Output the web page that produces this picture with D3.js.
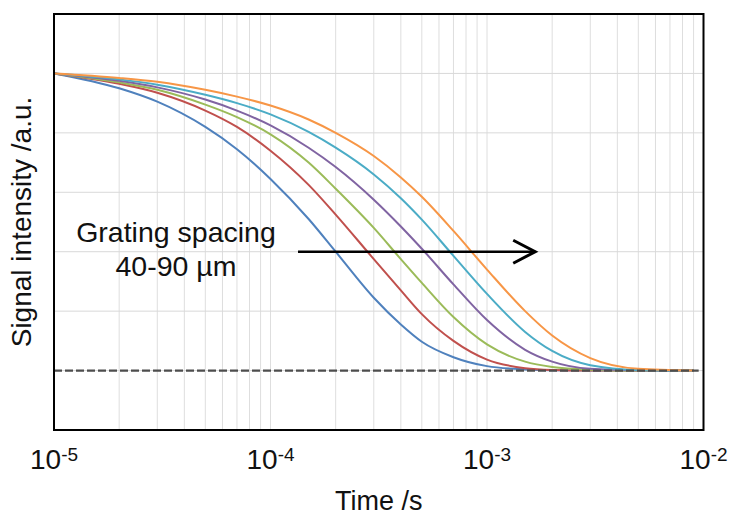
<!DOCTYPE html>
<html>
<head>
<meta charset="utf-8">
<script src="https://cdn.jsdelivr.net/npm/d3@7"></script>
<style>
  body { margin: 0; background: #fff; }
  text { font-family: "Liberation Sans", Arial, sans-serif; fill: #111; }
</style>
</head>
<body>
<svg id="chart"></svg>
<script>
// time points (s) shared by all curves
const times = [1e-5, 2e-5, 3e-5, 5e-5, 7e-5, 1e-4, 1.5e-4, 2e-4, 3e-4, 4e-4, 5e-4, 7e-4,
  1e-3, 1.5e-3, 2e-3, 3e-3, 5e-3, 9e-3];

// normalized signal, one array per grating spacing
const spacing40 = [1, 0.95, 0.905, 0.82, 0.745, 0.645, 0.51, 0.40, 0.245, 0.155, 0.097, 0.045, 0.015, 0.004, 0.001, 0, 0, 0];
const spacing50 = [1, 0.965, 0.935, 0.875, 0.82, 0.74, 0.625, 0.525, 0.375, 0.27, 0.19, 0.1, 0.037, 0.008, 0.002, 0, 0, 0];
const spacing60 = [1, 0.97, 0.945, 0.895, 0.853, 0.795, 0.70, 0.612, 0.48, 0.375, 0.295, 0.18, 0.088, 0.03, 0.012, 0.003, 0, 0];
const spacing70 = [1, 0.975, 0.953, 0.912, 0.875, 0.825, 0.75, 0.685, 0.575, 0.485, 0.41, 0.29, 0.17, 0.07, 0.03, 0.006, 0.001, 0];
const spacing80 = [1, 0.98, 0.962, 0.928, 0.9, 0.862, 0.803, 0.75, 0.66, 0.58, 0.508, 0.386, 0.258, 0.13, 0.066, 0.018, 0.002, 0];
const spacing90 = [1, 0.985, 0.972, 0.945, 0.922, 0.892, 0.845, 0.80, 0.722, 0.65, 0.585, 0.47, 0.34, 0.2, 0.118, 0.042, 0.006, 0];

const seriesNames = ["40 µm", "50 µm", "60 µm", "70 µm", "80 µm", "90 µm"];
const seriesValues = [spacing40, spacing50, spacing60, spacing70, spacing80, spacing90];

// axis ticks
const decadeTicks = [1e-5, 1e-4, 1e-3, 1e-2];
const decadeExponents = ["-5", "-4", "-3", "-2"];
const yGridValues = [-0.2, 0, 0.2, 0.4, 0.6, 0.8, 1.0, 1.2];

const width = 730;
const height = 518;
const margin = { top: 14, right: 26.5, bottom: 88, left: 54 };

const svg = d3.select("#chart").attr("width", width).attr("height", height);

const x = d3.scaleLog()
  .domain([1e-5, 1e-2])
  .range([margin.left, width - margin.right]);

const y = d3.scaleLinear()
  .domain([-0.2, 1.2])
  .range([height - margin.bottom, margin.top]);

const colors = d3.scaleOrdinal()
  .domain(seriesNames)
  .range(["#4F81BD", "#C0504D", "#9BBB59", "#8064A2", "#4BACC6", "#F79646"]);

// minor + major vertical grid lines
const gridTimes = [];
[1e-5, 1e-4, 1e-3].forEach(function (d) {
  for (let k = 1; k < 10; k++) gridTimes.push(d * k);
});

svg.append("g")
  .selectAll("line")
  .data(gridTimes)
  .enter()
  .append("line")
  .attr("x1", d => x(d))
  .attr("x2", d => x(d))
  .attr("y1", y(1.2))
  .attr("y2", y(-0.2))
  .attr("stroke", "#dedede")
  .attr("stroke-width", 1);

svg.append("g")
  .selectAll("line")
  .data(yGridValues)
  .enter()
  .append("line")
  .attr("x1", x(1e-5))
  .attr("x2", x(1e-2))
  .attr("y1", d => y(d))
  .attr("y2", d => y(d))
  .attr("stroke", "#d9d9d9")
  .attr("stroke-width", 1);

// curves
const line = d3.line()
  .x((d, i) => x(times[i]))
  .y(d => y(d))
  .curve(d3.curveMonotoneX);

svg.append("g")
  .selectAll("path")
  .data(seriesValues)
  .enter()
  .append("path")
  .attr("d", line)
  .attr("fill", "none")
  .attr("stroke", (d, i) => colors(seriesNames[i]))
  .attr("stroke-width", 2);

// zero level, dashed
const baseline = [1e-5, 9.5e-3];
svg.append("path")
  .datum(baseline)
  .attr("d", d3.line().x(d => x(d)).y(y(0)))
  .attr("fill", "none")
  .attr("stroke", "#4d4d4d")
  .attr("stroke-width", 2.2)
  .attr("stroke-dasharray", "8,3");

// plot frame
svg.append("rect")
  .attr("x", x(1e-5))
  .attr("y", y(1.2))
  .attr("width", x(1e-2) - x(1e-5))
  .attr("height", y(-0.2) - y(1.2))
  .attr("fill", "none")
  .attr("stroke", "#000")
  .attr("stroke-width", 2);

// x tick labels 10^n
const tickText = svg.append("g")
  .selectAll("text")
  .data(decadeTicks)
  .enter()
  .append("text")
  .attr("x", d => x(d))
  .attr("y", 469)
  .attr("text-anchor", "middle")
  .style("font-size", "28px");

tickText.append("tspan").text("10");
tickText.append("tspan")
  .attr("dy", -8)
  .style("font-size", "19px")
  .text((d, i) => decadeExponents[i]);

// axis titles
svg.append("text")
  .attr("x", (x(1e-5) + x(1e-2)) / 2)
  .attr("y", 510)
  .attr("text-anchor", "middle")
  .style("font-size", "27px")
  .text("Time /s");

svg.append("text")
  .attr("transform", `translate(31,${(y(1.2) + y(-0.2)) / 2}) rotate(-90)`)
  .attr("text-anchor", "middle")
  .style("font-size", "28px")
  .text("Signal intensity /a.u.");

// annotation
const arrowStart = 1.34e-4;
const arrowEnd = 1.67e-3;
const arrowLevel = 0.4;

svg.append("line")
  .attr("x1", x(arrowStart))
  .attr("x2", x(arrowEnd))
  .attr("y1", y(arrowLevel))
  .attr("y2", y(arrowLevel))
  .attr("stroke", "#000")
  .attr("stroke-width", 2.5);

svg.append("path")
  .attr("d", `M${x(arrowEnd) - 22},${y(arrowLevel) - 11.5} L${x(arrowEnd)},${y(arrowLevel)} L${x(arrowEnd) - 22},${y(arrowLevel) + 11.5}`)
  .attr("fill", "none")
  .attr("stroke", "#000")
  .attr("stroke-width", 3);

svg.append("text")
  .attr("x", 176)
  .attr("y", 242)
  .attr("text-anchor", "middle")
  .style("font-size", "28.5px")
  .text("Grating spacing");

svg.append("text")
  .attr("x", 176)
  .attr("y", 276)
  .attr("text-anchor", "middle")
  .style("font-size", "28.5px")
  .text("40-90 µm");
</script>
</body>
</html>
